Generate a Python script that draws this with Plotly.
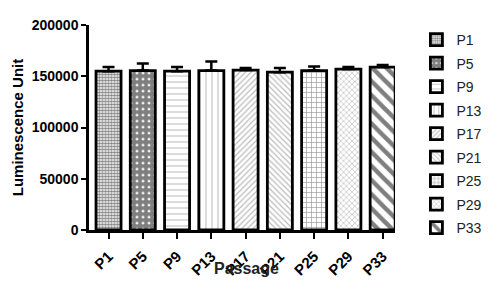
import plotly.graph_objects as go

categories = ["P1", "P5", "P9", "P13", "P17", "P21", "P25", "P29", "P33"]
values = [155000, 155500, 155000, 155500, 156000, 154000, 155500, 157000, 159000]
errors = [4000, 7000, 4000, 9000, 2000, 4000, 4000, 2000, 2000]
y_ticks = [0, 50000, 100000, 150000, 200000]
y_tick_text = ["0", "50000", "100000", "150000", "200000"]

patterns = [
    dict(shape=".", size=3, solidity=0.65, fgcolor="#111"),
    dict(shape=".", size=6, solidity=0.8, fgcolor="black"),
    dict(shape="-", size=6, solidity=0.2, fgcolor="#888"),
    dict(shape="|", size=6, solidity=0.2, fgcolor="#888"),
    dict(shape="/", size=4, solidity=0.3, fgcolor="#777"),
    dict(shape="\\", size=4, solidity=0.3, fgcolor="#777"),
    dict(shape="+", size=5, solidity=0.25, fgcolor="#333"),
    dict(shape="x", size=4, solidity=0.3, fgcolor="#777"),
    dict(shape="\\", size=10, solidity=0.45, fgcolor="black"),
]

fig = go.Figure()
for i, c in enumerate(categories):
    p = dict(patterns[i])
    p["bgcolor"] = "white"
    fig.add_trace(go.Bar(
        x=[c], y=[values[i]], name=c, legendgroup=c,
        marker=dict(color="white", line=dict(color="black", width=2.8), pattern=p),
        error_y=dict(type="data", array=[errors[i]], arrayminus=[0], symmetric=False,
                     color="black", thickness=2.5, width=6),
    ))

fig.update_layout(
    width=500, height=291,
    margin=dict(l=89, r=105, t=25, b=61),
    paper_bgcolor="white", plot_bgcolor="white",
    barmode="overlay", bargap=0.27,
    font=dict(family="Liberation Sans, Arial, sans-serif", color="black"),
    showlegend=True,
    legend=dict(x=1.07, xanchor="left", y=1.005, yanchor="top", maxheight=400,
                font=dict(size=14, color="#222"), tracegroupgap=2.3,
                bgcolor="rgba(0,0,0,0)"),
    xaxis=dict(type="category", categoryorder="array", categoryarray=categories,
               range=[-0.57, 8.36], showline=True, linecolor="black", linewidth=2.5,
               ticks="outside", ticklen=6, tickwidth=2, tickcolor="black",
               ticklabelstandoff=3,
               tickangle=-45, tickfont=dict(size=15, family="Liberation Sans, Arial", weight="bold"),
               showgrid=False, zeroline=False),
    yaxis=dict(range=[0, 200000], tickvals=y_ticks, ticktext=y_tick_text, showline=True,
               linecolor="black", linewidth=2.5, ticks="outside", ticklen=5, tickwidth=2,
               tickcolor="black",
               tickfont=dict(size=14, family="Liberation Sans, Arial", weight="bold"),
               showgrid=False, zeroline=False,
               title=dict(text="Luminescence Unit", standoff=5,
                          font=dict(size=15, family="Liberation Sans, Arial", weight="bold"))),
    annotations=[dict(text="Passage", xref="paper", yref="paper", x=0.515, y=-0.135,
                      xanchor="center", yanchor="top", showarrow=False,
                      font=dict(size=16, family="Liberation Sans, Arial", weight="bold", color="#222"))],
)

fig.write_html("out.html")
